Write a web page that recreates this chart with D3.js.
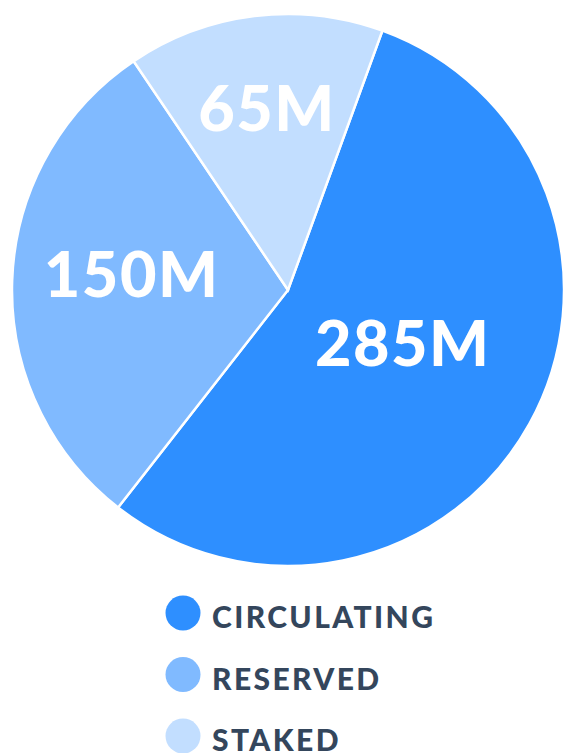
<!DOCTYPE html>
<html>
<head>
<meta charset="utf-8">
<script src="https://cdn.jsdelivr.net/npm/d3@7"></script>
<style>
  html, body { margin: 0; padding: 0; background: #fff; }
  text { font-family: Lato, "Open Sans", sans-serif; }
</style>
</head>
<body>
<div id="chart"></div>
<script>
const width = 563;
const height = 753;

// token distribution (slice shares as drawn, labels as printed)
const categories = ["CIRCULATING", "RESERVED", "STAKED"];
const shares = [55, 30, 15];
const valueLabels = ["285M", "150M", "65M"];
const colors = ["#2e8fff", "#80baff", "#c2deff"];

const data = categories.map((c, i) => ({ name: c, share: shares[i], label: valueLabels[i], color: colors[i] }));

const svg = d3.select("#chart").append("svg")
    .attr("width", width)
    .attr("height", height);

const cx = 288, cy = 290, radius = 276;

const pie = d3.pie()
    .sort(null)
    .value(d => d.share)
    .startAngle(20 * Math.PI / 180)
    .endAngle(380 * Math.PI / 180);

const arc = d3.arc().innerRadius(0).outerRadius(radius);

const g = svg.append("g").attr("transform", `translate(${cx},${cy})`);

const arcs = pie(data);

g.selectAll("path")
    .data(arcs)
    .enter().append("path")
    .attr("d", arc)
    .attr("fill", d => d.data.color)
    .attr("stroke", "#fff")
    .attr("stroke-width", 2.5);

// labels sit at different depths in each slice
const labelDepth = [0.475, 0.567, 0.626];

g.selectAll(".val")
    .data(arcs)
    .enter().append("text")
    .attr("class", "val")
    .attr("transform", (d, i) => {
        const a = (d.startAngle + d.endAngle) / 2;
        const r = radius * labelDepth[i];
        return `translate(${r * Math.sin(a)},${-r * Math.cos(a)})`;
    })
    .attr("text-anchor", "middle")
    .attr("dy", "0.2em")
    .attr("fill", "#fff")
    .attr("font-size", 63)
    .attr("font-weight", 900)
    .attr("letter-spacing", 1.5)
    .text(d => d.data.label);

// legend
const legend = svg.append("g").attr("transform", "translate(183,0)");
const legendY = d3.scalePoint().domain(categories).range([613, 736]);

const item = legend.selectAll(".item")
    .data(data)
    .enter().append("g")
    .attr("class", "item")
    .attr("transform", d => `translate(0,${legendY(d.name)})`);

item.append("circle")
    .attr("r", 17.5)
    .attr("fill", d => d.color);

item.append("text")
    .attr("x", 29)
    .attr("dy", "0.5em")
    .attr("fill", "#34465c")
    .attr("font-size", 30)
    .attr("font-weight", 900)
    .attr("letter-spacing", 2.4)
    .text(d => d.name);
</script>
</body>
</html>
